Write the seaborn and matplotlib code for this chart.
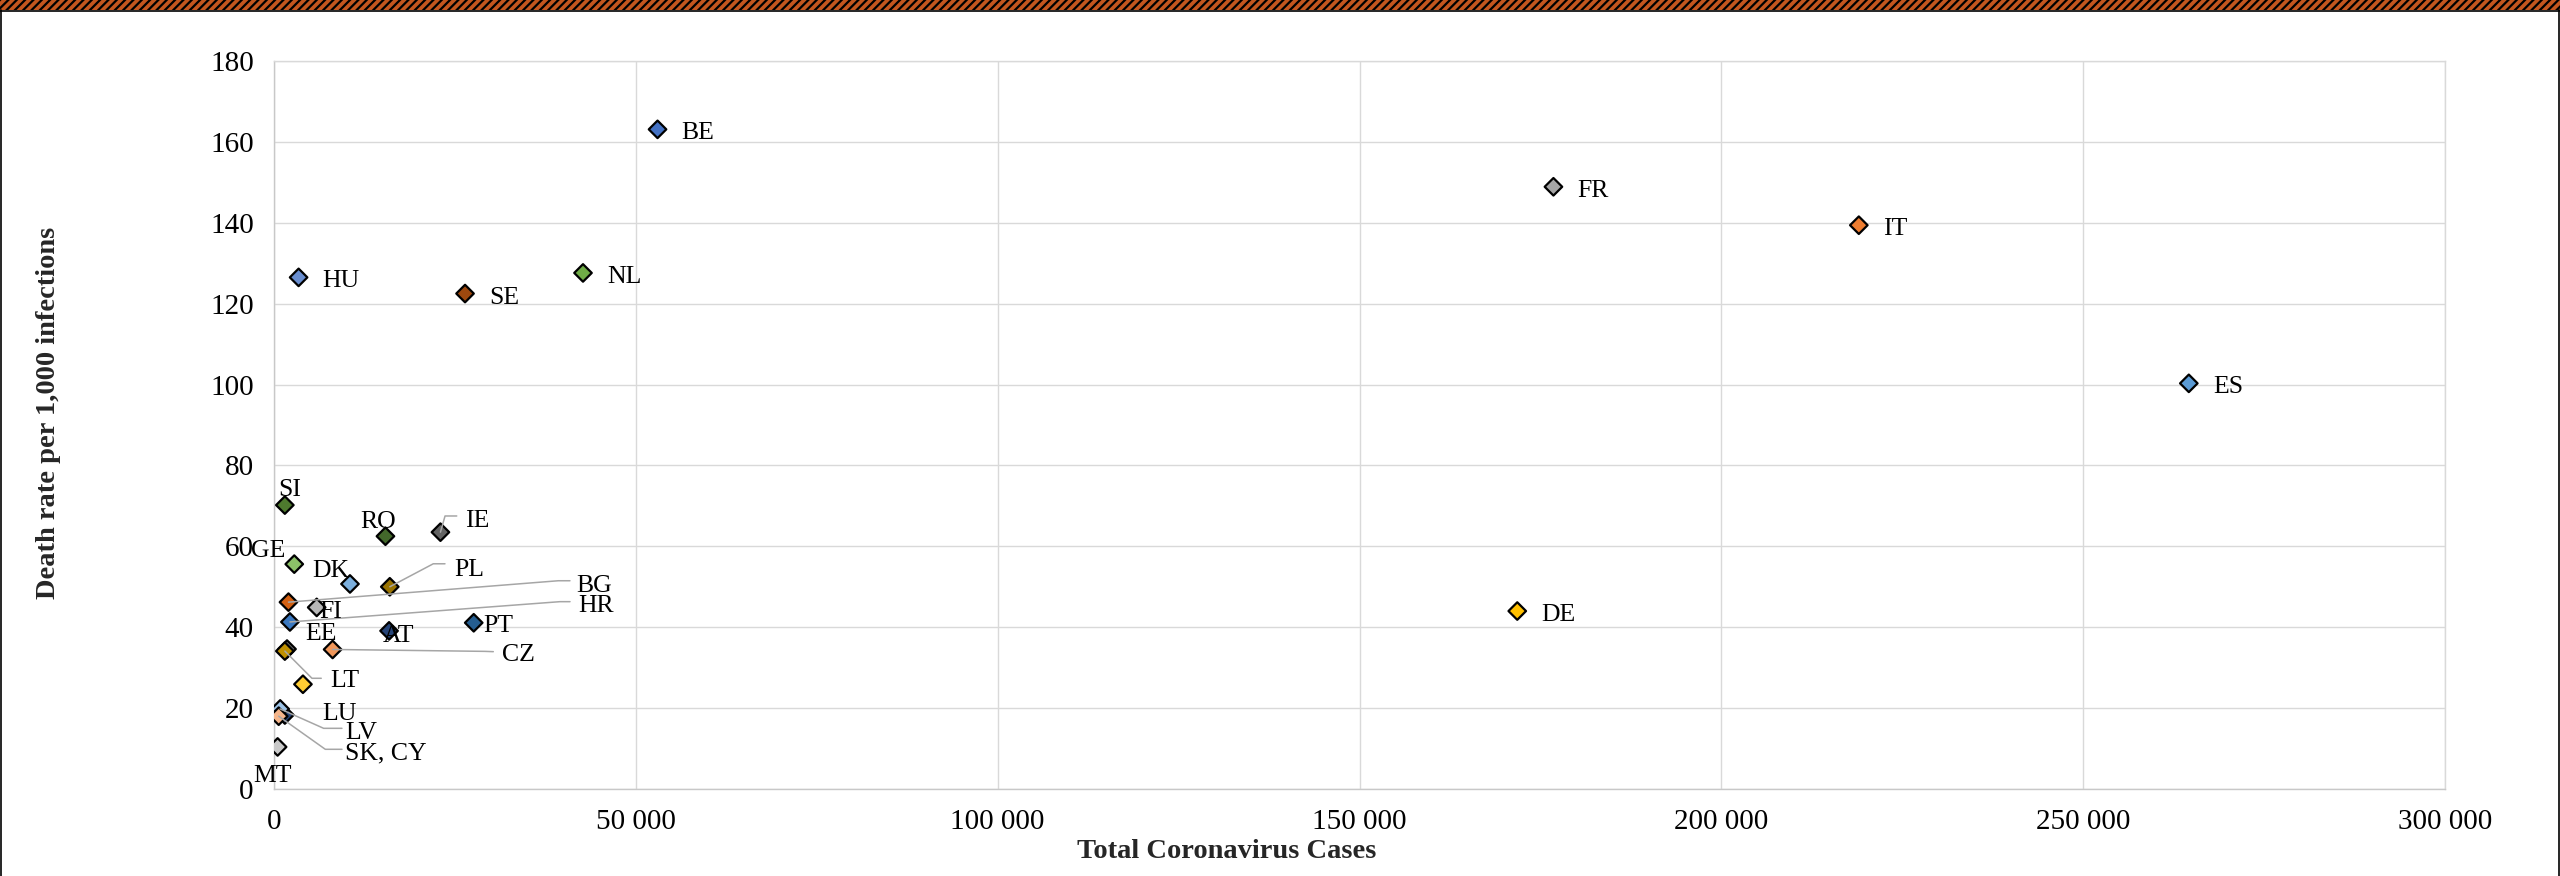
import matplotlib
matplotlib.use("Agg")
import matplotlib.pyplot as plt
import seaborn as sns
import pandas as pd
from matplotlib.lines import Line2D
from matplotlib.patches import Rectangle
from matplotlib.ticker import FuncFormatter
from matplotlib.transforms import IdentityTransform

# ---------------- data ----------------
codes = ["BE", "FR", "IT", "ES", "DE", "HU", "SE", "NL", "SI", "RO", "IE", "GE",
         "DK", "PL", "BG", "FI", "HR", "EE", "AT", "PT", "CZ", "LT", "LU", "CY",
         "LV", "SK", "MT"]
labels = ["BE", "FR", "IT", "ES", "DE", "HU", "SE", "NL", "SI", "RO", "IE", "GE",
          "DK", "PL", "BG", "FI", "HR", "EE", "AT", "PT", "CZ", "LT", "LU", "",
          "LV", "SK, CY", "MT"]
total_cases = [53000, 176800, 219000, 264600, 171800, 3400, 26400, 42700, 1500,
               15400, 23000, 2800, 10500, 16000, 2000, 5900, 2200, 1800, 15900,
               27600, 8100, 1500, 4000, 1500, 850, 650, 500]
death_rate = [163.1, 148.9, 139.4, 100.3, 44.0, 126.5, 122.5, 127.6, 70.2, 62.5,
              63.5, 55.6, 50.7, 50.0, 46.2, 44.9, 41.3, 34.6, 39.1, 41.1, 34.5,
              34.1, 25.9, 18.3, 19.8, 18.0, 10.4]
x_ticks = [0, 50000, 100000, 150000, 200000, 250000, 300000]
y_ticks = [0, 20, 40, 60, 80, 100, 120, 140, 160, 180]

# ---------------- styles ----------------
colors = {"BE": "#4472C4", "FR": "#A5A5A5", "IT": "#ED7D31", "ES": "#5B9BD5",
          "DE": "#FFC000", "HU": "#698ED0", "SE": "#9E480E", "NL": "#70AD47",
          "SI": "#4E7A2E", "RO": "#43682B", "IE": "#636363", "GE": "#8CC168",
          "DK": "#7CAFDD", "PL": "#997300", "BG": "#D26012", "FI": "#B7B7B7",
          "HR": "#3A78C0", "EE": "#7F7F7F", "AT": "#264478", "PT": "#255E91",
          "CZ": "#F1975A", "LT": "#BF9000", "LU": "#FFCD33", "CY": "#264478",
          "LV": "#9DC3E6", "SK": "#F5B58A", "MT": "#C9C9C9"}
R = (24, -1, "left")
# label offsets in pixels from the marker centre (dx, dy up, alignment)
lab_off = {"BE": R, "FR": R, "IT": R, "ES": R, "DE": R, "HU": R, "SE": R, "NL": R,
           "SI": (4.4, 18.4, "center"), "RO": (-7.1, 17.2, "center"),
           "IE": (24.6, 13.9, "left"), "GE": (-26, 15.8, "center"),
           "DK": (-19.5, 15.7, "center"), "PL": (64.2, 20.1, "left"),
           "BG": (288.2, 19.4, "left"), "FI": (2.6, -1.6, "left"),
           "HR": (288.1, 18.7, "left"), "EE": (33.7, 18.3, "center"),
           "AT": (9.9, -2.4, "center"), "PT": (9.6, -0.5, "left"),
           "CZ": (169.1, -2.2, "left"), "LT": (45.1, -27.4, "left"),
           "LU": (19, -26.8, "left"), "LV": (65.1, -21.1, "left"),
           "SK": (66, -33.8, "left"), "MT": (-4.8, -25.8, "center")}
# leader line vertices (pixels from marker centre)
leaders = {"IE": [(4.6, 16.2), (16.3, 16.2)],
           "PL": [(43.5, 23.0), (55.2, 23.0)],
           "BG": [(269.8, 21.4), (281.5, 21.4)],
           "HR": [(270.1, 20.3), (280.1, 20.3)],
           "CZ": [(152.4, -1.9), (160.7, -2.2)],
           "LT": [(27.1, -27.2), (36.4, -27.2)],
           "LV": [(43.5, -19.4), (61.8, -19.4)],
           "SK": [(46.6, -33.1), (63.3, -33.1)]}

sns.set_style("white")
plt.rcParams["font.family"] = ["Liberation Serif", "DejaVu Serif"]
plt.rcParams["hatch.linewidth"] = 1.6

W, H = 2560, 876
fig = plt.figure(figsize=(W / 100, H / 100), dpi=100)
ax = fig.add_axes([274 / W, 1 - 789 / H, (2445 - 274) / W, (789 - 61) / H])

df = pd.DataFrame({"code": codes, "label": labels, "cases": total_cases,
                   "rate": death_rate})

ax.set_xlim(0, 300000)
ax.set_ylim(0, 180)
ax.set_xticks(x_ticks)
ax.set_yticks(y_ticks)
ax.xaxis.set_major_formatter(FuncFormatter(lambda v, p: f"{int(v):,}".replace(",", " ")))
ax.yaxis.set_major_formatter(FuncFormatter(lambda v, p: f"{int(v)}"))
ax.grid(True, color="#D9D9D9", lw=1.0, zorder=0)
ax.set_axisbelow(True)
for s in ax.spines.values():
    s.set_color("#D9D9D9")
    s.set_linewidth(1.0)
ax.spines["left"].set_color("#C8C8C8")
ax.spines["bottom"].set_color("#C8C8C8")
ax.tick_params(axis="both", length=0, labelsize=21, colors="black", pad=14.5)

sns.scatterplot(data=df, x="cases", y="rate", hue="code", palette=colors,
                marker="D", s=80, edgecolor="black", linewidth=1.6,
                legend=False, ax=ax, zorder=3)
ax.set_xlabel("")
ax.set_ylabel("")

for _, r in df.iterrows():
    if r["label"]:
        dx, dy, ha = lab_off[r["code"]]
        ax.annotate(r["label"], (r["cases"], r["rate"]), xytext=(dx, dy - 9),
                    textcoords="offset pixels", ha=ha, va="baseline",
                    fontsize=18.5, color="black", zorder=5,
                    annotation_clip=False)
    if r["code"] in leaders:
        px, py = ax.transData.transform((r["cases"], r["rate"]))
        pts = [(0, 0)] + leaders[r["code"]]
        xs = [px + a for a, b in pts]
        ys = [py + b for a, b in pts]
        ax.add_artist(Line2D(xs, ys, transform=IdentityTransform(),
                             color="#A6A6A6", lw=1.1, zorder=4, clip_on=False))

fig.text(1227 / W, 1 - 852 / H, "Total Coronavirus Cases", ha="center",
         va="center", fontsize=20.5, fontweight="bold")
fig.text(49 / W, 1 - 413 / H, "Death rate per 1,000 infections", ha="center",
         va="center", rotation=90, fontsize=20.5, fontweight="bold")

# frame and top stripe
fig.add_artist(Rectangle((0, 1 - 10 / H), 1, 10 / H, transform=fig.transFigure,
                         facecolor="#C4561E", edgecolor="black", hatch="////",
                         lw=0))
fig.add_artist(Line2D([0, 1], [1 - 10.5 / H] * 2, transform=fig.transFigure,
                      color="black", lw=1.2))
fig.add_artist(Line2D([0.6 / W] * 2, [0, 1 - 10 / H], transform=fig.transFigure,
                      color="black", lw=1.2))
fig.add_artist(Line2D([1 - 1.2 / W] * 2, [0, 1 - 10 / H], transform=fig.transFigure,
                      color="black", lw=1.2))

fig.savefig("out.png", dpi=100)
